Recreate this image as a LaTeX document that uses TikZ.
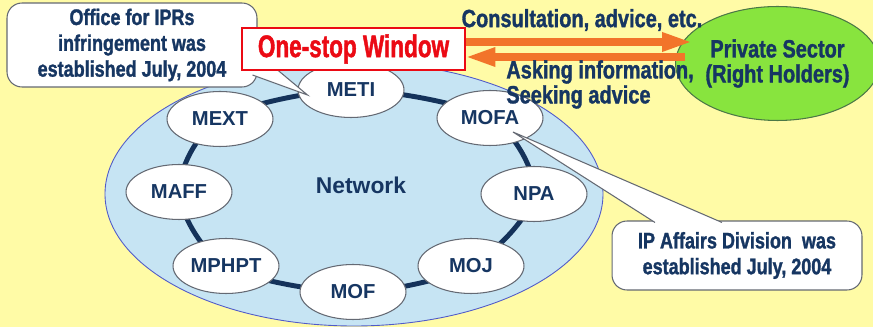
\documentclass[tikz,border=0pt]{standalone}
\usepackage{fontspec}
\setsansfont{Liberation Sans}
\newfontfamily\condfont[FakeStretch=0.8,FakeBold=1.3]{Liberation Sans Bold}
\newfontfamily\narrowfont[FakeStretch=0.72,FakeBold=1.3]{Liberation Sans Bold}
\usetikzlibrary{shapes.geometric,arrows.meta,calc,backgrounds}

\definecolor{bgyellow}{RGB}{255,251,166}
\definecolor{netblue}{RGB}{198,228,243}
\definecolor{netedge}{RGB}{80,90,200}
\definecolor{ringnavy}{RGB}{20,50,90}
\definecolor{textnavy}{RGB}{22,54,98}
\definecolor{stopred}{RGB}{235,10,20}
\definecolor{floworange}{RGB}{242,116,42}
\definecolor{sectorgreen}{RGB}{136,228,62}
\definecolor{sectoredge}{RGB}{75,120,70}
\definecolor{nodeedge}{RGB}{100,105,115}

\begin{document}
\begin{tikzpicture}[x=0.02cm,y=-0.02cm,
    office/.style={ellipse, draw=nodeedge, line width=0.6pt, fill=white,
      minimum width=2.12cm, minimum height=1.1cm, inner sep=0pt,
      text=textnavy, font=\sffamily\bfseries\fontsize{11.5}{12}\selectfont},
    note/.style={rectangle, rounded corners=0.3cm, draw=nodeedge, line width=0.6pt,
      fill=white, align=center, inner sep=0pt, text=textnavy,
      font=\condfont\fontsize{12.8}{14.7}\selectfont},
    pointer/.style={fill=white, draw=nodeedge, line width=0.6pt},
    window/.style={rectangle, draw=stopred, line width=0.6pt, fill=white,
      minimum width=4.46cm, minimum height=0.84cm, inner sep=0pt, text=stopred,
      font=\narrowfont\fontsize{17.8}{18}\selectfont},
    sector/.style={ellipse, draw=sectoredge, line width=0.6pt, fill=sectorgreen,
      minimum width=3.8cm, minimum height=2.28cm, inner sep=0pt, align=center,
      text=textnavy, font=\condfont\fontsize{14.2}{14.2}\selectfont},
    flow/.style={draw=floworange, line width=4pt, -{Triangle[length=17pt,width=10pt]}},
    said/.style={text=textnavy, inner sep=0pt, font=\condfont\fontsize{14.2}{14.2}\selectfont}
  ]
  \useasboundingbox (0,0) rectangle (873,327);

  \begin{scope}[on background layer]
    \fill[bgyellow] (0,0) rectangle (873,327);
    \draw[netedge, fill=netblue, line width=0.5pt] (354,194) ellipse [x radius=249, y radius=132];
  \end{scope}

  \node[text=textnavy, inner sep=0pt, font=\sffamily\bfseries\fontsize{13}{14}\selectfont]
    (net) at (361,185) {Network};

  % MINISTRIES
  \node[office] (meti)  at (351,90)  {METI};
  \node[office] (mofa)  at (490,118) {MOFA};
  \node[office] (npa)   at (534,194) {NPA};
  \node[office] (moj)   at (471,266) {MOJ};
  \node[office] (mof)   at (353,292) {MOF};
  \node[office] (mphpt) at (226,266) {MPHPT};
  \node[office] (maff)  at (179,192) {MAFF};
  \node[office] (mext)  at (220,119) {MEXT};

  \begin{scope}[on background layer]
    \draw[ringnavy, line width=2.8pt] plot[smooth cycle] coordinates
      {(meti) (mofa) (npa) (moj) (mof) (mphpt) (maff) (mext)};
  \end{scope}

  % NOTES
  \node[note, minimum width=5cm, minimum height=1.68cm] (ipr) at (132,45)
    {Office for IPRs\\infringement was\\established July, 2004};
  \filldraw[pointer] ($(ipr.east)+(-5,30)$) -- ($(meti.west)+(10,5)$) -- ($(ipr.east)+(-5,4)$);

  \node[note, minimum width=5cm, minimum height=1.38cm] (ipa) at (737,255.5)
    {IP Affairs Division~ was\\established July, 2004};
  \filldraw[pointer] ($(ipa.north)+(-82,2)$) -- ($(mofa)+(23,14)$) -- ($(ipa.north)+(-15,2)$);

  \node[window] (window) at (353.5,49) {One-stop Window};

  \node[sector] (private) at (777.5,63.5) {Private Sector\\(Right Holders)};

  % ARROWS
  \draw[flow] ($(window.east)+(0,-7)$) -- ($(private.west)+(17,-21.5)$);
  \draw[flow] ($(private.west)+(10,-6.5)$) -- ($(window.east)+(0,8)$);

  \node[said] (consult) at (582,20) {Consultation, advice, etc.};
  \node[said, anchor=west, align=left] (asking) at (506,84.5) {Asking information,\\Seeking advice};
\end{tikzpicture}
\end{document}
